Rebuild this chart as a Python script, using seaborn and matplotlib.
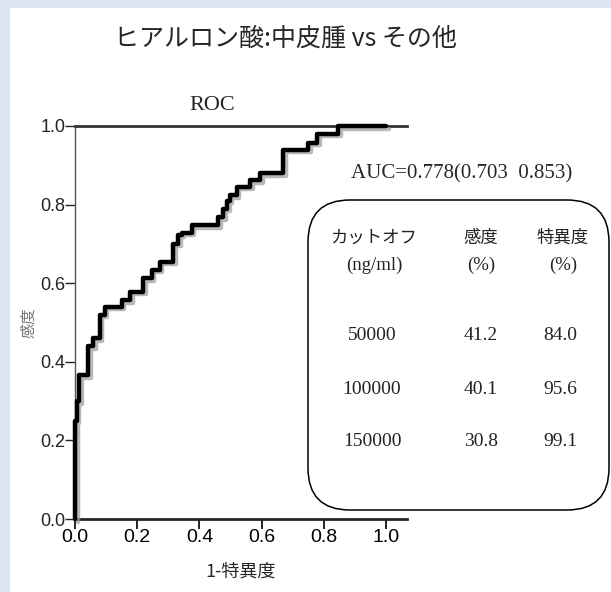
import matplotlib
matplotlib.use("Agg")
import matplotlib.pyplot as plt
import matplotlib.patheffects as pe
from matplotlib.patches import FancyBboxPatch, Rectangle
import seaborn as sns
import pandas as pd

# ---- data ----
fpr = [0.0, 0.0, 0.006, 0.013, 0.043, 0.058, 0.08, 0.096, 0.15, 0.177, 0.22, 0.247,
       0.273, 0.316, 0.332, 0.343, 0.375, 0.46, 0.477, 0.49, 0.497, 0.52, 0.563,
       0.595, 0.67, 0.75, 0.778, 0.846, 1.0]
tpr = [0.0, 0.25, 0.30, 0.366, 0.44, 0.46, 0.52, 0.54, 0.557, 0.578, 0.613, 0.634,
       0.654, 0.70, 0.723, 0.728, 0.748, 0.768, 0.79, 0.81, 0.824, 0.845, 0.862,
       0.880, 0.94, 0.957, 0.98, 1.0, 1.0]
cutoffs = ["50000", "100000", "150000"]
sens = ["41.2", "40.1", "30.8"]
spec = ["84.0", "95.6", "99.1"]
ticks = [0.0, 0.2, 0.4, 0.6, 0.8, 1.0]
tick_labels = ["0.0", "0.2", "0.4", "0.6", "0.8", "1.0"]
title = "ヒアルロン酸:中皮腫 vs その他"
subtitle = "ROC"
auc_text = "AUC=0.778(0.703  0.853)"
header = [("カットオフ", "(ng/ml)"), ("感度", "(%)"), ("特異度", "(%)")]

sns.set_style("ticks")
plt.rcParams["font.family"] = ["Noto Sans CJK JP", "DejaVu Sans"]

W, H = 611, 592
fig = plt.figure(figsize=(W / 100, H / 100), dpi=100)
fig.patch.set_facecolor("#dce6f2")
fig.patches.append(Rectangle((10 / W, 0), 1 - 10 / W, 1 - 8 / H, transform=fig.transFigure,
                             facecolor="white", edgecolor="none", zorder=-5))

def px(x, y):
    return x / W, 1 - y / H

ax_l, ax_r, ax_t, ax_b = 75, 407, 126, 519
ax = fig.add_axes([ax_l / W, 1 - ax_b / H, (ax_r - ax_l) / W, (ax_b - ax_t) / H])
ax.set_facecolor("none")
ax.set_zorder(2)

df = pd.DataFrame({"fpr": fpr, "tpr": tpr})
sns.lineplot(data=df, x="fpr", y="tpr", ax=ax, sort=False, estimator=None,
             drawstyle="steps-post", color="black", linewidth=3.2,
             path_effects=[pe.SimpleLineShadow(offset=(1.8, -1.8), shadow_color="#9a9a9a", alpha=0.7),
                           pe.Normal()], clip_on=False, zorder=5)

ax.set_xlim(0, 1.067)
ax.set_ylim(0, 1.0)
ax.set_xticks(ticks)
ax.set_xticklabels(tick_labels, fontsize=14, family=["Liberation Sans"])
ax.set_yticks(ticks)
ax.set_yticklabels(tick_labels, fontsize=13, family=["Liberation Sans"])
ax.tick_params(axis="x", length=7, width=1.2, pad=0, colors="black")
ax.tick_params(axis="y", length=7, width=1, pad=0, colors="#222222")
ax.set_xlabel("1-特異度", fontsize=13, labelpad=12)
ax.set_ylabel("感度", fontsize=11, color="#777777", labelpad=2)
ax.spines["right"].set_visible(False)
ax.spines["top"].set_linewidth(2.0)
ax.spines["top"].set_color("#333333")
ax.spines["bottom"].set_linewidth(2.0)
ax.spines["left"].set_linewidth(1.0)
ax.spines["left"].set_color("#555555")
ax.grid(False)

serif = ["Liberation Serif", "DejaVu Serif"]
fig.text(*px(285, 39), title, fontsize=18, ha="center", va="center")
fig.text(*px(212, 106), subtitle, fontsize=16, ha="center", va="center", family=serif)
fig.text(*px(462, 174), auc_text, fontsize=15, ha="center", va="center", family=serif)

box = FancyBboxPatch((3.08, 0.82), 3.01, 3.10, boxstyle="round,pad=0,rounding_size=0.42",
                     transform=fig.dpi_scale_trans, facecolor="none", edgecolor="black",
                     linewidth=1.1, zorder=3)
fig.patches.append(box)

col_x = [374, 481, 563]
for cx, (h1, h2) in zip(col_x, header):
    fig.text(*px(cx, 238), h1, fontsize=12.5, ha="center", va="center", color="#222222")
    fig.text(*px(cx, 265), h2, fontsize=13.5, ha="center", va="center", family=serif, color="#222222")

row_y = [335, 389, 442]
for ry, c, s, p in zip(row_y, cutoffs, sens, spec):
    fig.text(*px(col_x[0] - 2, ry), c, fontsize=14, ha="center", va="center", family=serif, color="#222222")
    fig.text(*px(col_x[1], ry), s, fontsize=14, ha="center", va="center", family=serif, color="#222222")
    fig.text(*px(col_x[2] - 3, ry), p, fontsize=14, ha="center", va="center", family=serif, color="#222222")

fig.savefig("out.png", dpi=100)
